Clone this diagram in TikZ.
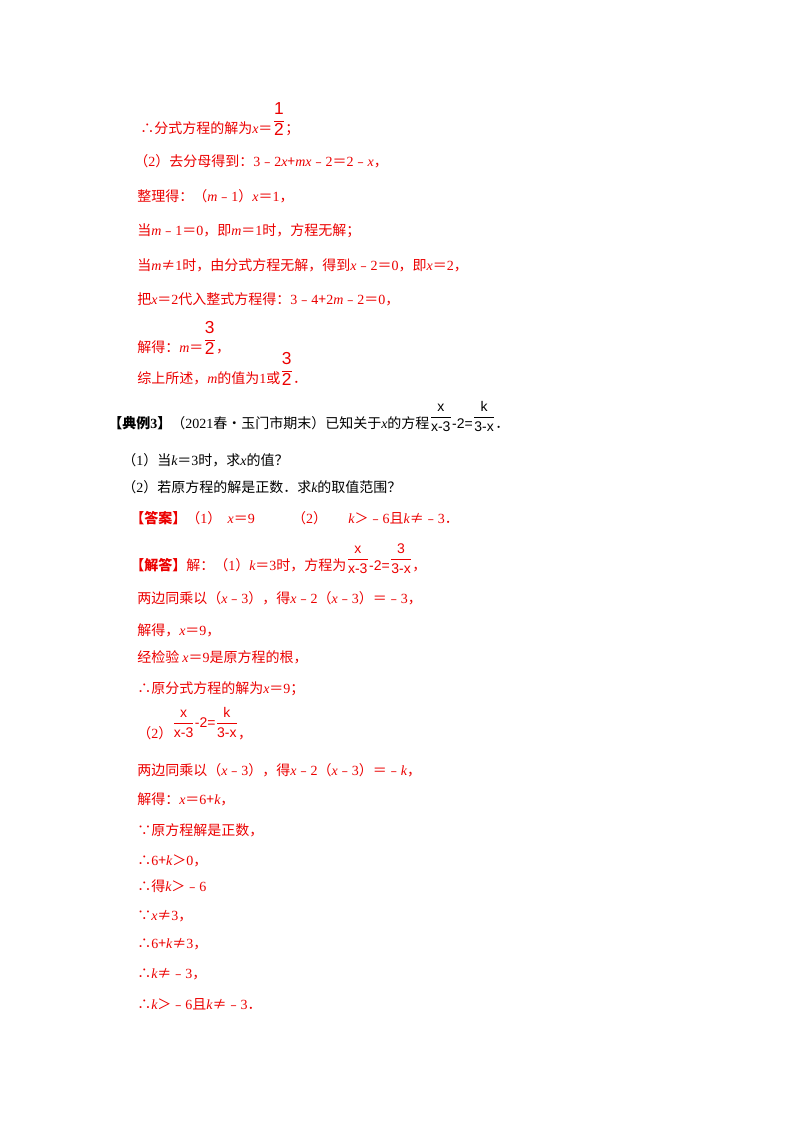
\documentclass[tikz,border=0pt]{standalone}
\usepackage{amsmath}
\usepackage{fontspec}
\setmainfont{Noto Sans CJK SC}
\newfontfamily\tm{Liberation Serif}
\newfontfamily\fs{Liberation Sans}
\newcommand\V[1]{{\tm\itshape #1}}
\newcommand\N[1]{{\tm #1}}
\newcommand\fr[2]{$\displaystyle\genfrac{}{}{0.5pt}{0}{\hbox{\fs #1}}{\hbox{\fs #2}}$}
\newcommand\rfr[2]{\raisebox{5pt}{\fr{#1}{#2}}}
\newcommand\bfr[2]{\raisebox{6pt}{\fontsize{13pt}{14pt}\selectfont\fr{#1}{#2}}}
\definecolor{ans}{RGB}{235,0,0}
\begin{document}
\begin{tikzpicture}[x=0.75pt,y=-0.75pt,
  ln/.style={anchor=base west,inner sep=0pt,font=\fontsize{10.5pt}{12pt}\selectfont},
  rd/.style={ln,text=ans},bk/.style={ln,text=black}]
\useasboundingbox (0,0) rectangle (800,1132);
\node[rd] (a1) at (140,133) {∴分式方程的解为\V{x}＝\bfr{1}{2}；};
\node[rd] (a2) at (134,166) {（\N{2}）去分母得到：\N{3}﹣\N{2}\V{x}+\V{mx}﹣\N{2}＝\N{2}﹣\V{x}，};
\node[rd] (a3) at (137,201) {整理得：（\V{m}﹣\N{1}）\V{x}＝\N{1}，};
\node[rd] (a4) at (137,235) {当\V{m}﹣\N{1}＝\N{0}，即\V{m}＝\N{1}时，方程无解；};
\node[rd] (a5) at (137,270) {当\V{m}≠\N{1}时，由分式方程无解，得到\V{x}﹣\N{2}＝\N{0}，即\V{x}＝\N{2}，};
\node[rd] (a6) at (137,304) {把\V{x}＝\N{2}代入整式方程得：\N{3}﹣\N{4}+\N{2}\V{m}﹣\N{2}＝\N{0}，};
\node[rd] (a7) at (137,352) {解得：\V{m}＝\bfr{3}{2}，};
\node[rd] (a8) at (137,383) {综上所述，\V{m}的值为\N{1}或\bfr{3}{2}．};
\node[bk] (b1) at (108,428) {\textbf{【典例\N{3}】}（\N{2021}春•玉门市期末）已知关于\V{x}的方程\rfr{x}{x-3}{\fs -2=}\rfr{k}{3-x}．};
\node[bk] (b2) at (122,465) {（\N{1}）当\V{k}＝\N{3}时，求\V{x}的值？};
\node[bk] (b3) at (122,492) {（\N{2}）若原方程的解是正数．求\V{k}的取值范围？};
\node[rd] (c1) at (130,523) {\textbf{【答案】}（\N{1}）\ \ \V{x}＝\N{9}\hspace{28pt}（\N{2}）\hspace{16pt}\V{k}＞﹣\N{6}且\V{k}≠﹣\N{3}．};
\node[rd] (c2) at (130,570) {\textbf{【解答】}解：（\N{1}）\V{k}＝\N{3}时，方程为\rfr{x}{x-3}{\fs -2=}\rfr{3}{3-x}，};
\node[rd] (c3) at (137,603) {两边同乘以（\V{x}﹣\N{3}），得\V{x}﹣\N{2}（\V{x}﹣\N{3}）＝﹣\N{3}，};
\node[rd] (c4) at (137,635) {解得，\V{x}＝\N{9}，};
\node[rd] (c5) at (137,662) {经检验 \V{x}＝\N{9}是原方程的根，};
\node[rd] (c6) at (137,693) {∴原分式方程的解为\V{x}＝\N{9}；};
\node[rd] (c7) at (137,738) {（\N{2}）\raisebox{8pt}{\fr{x}{x-3}{\fs -2=}\fr{k}{3-x}}，};
\node[rd] (c8) at (137,775) {两边同乘以（\V{x}﹣\N{3}），得\V{x}﹣\N{2}（\V{x}﹣\N{3}）＝﹣\V{k}，};
\node[rd] (c9) at (137,804) {解得：\V{x}＝\N{6}+\V{k}，};
\node[rd] (c10) at (137,835) {∵原方程解是正数，};
\node[rd] (c11) at (137,865) {∴\N{6}+\V{k}＞\N{0}，};
\node[rd] (c12) at (137,891) {∴得\V{k}＞﹣\N{6}};
\node[rd] (c13) at (137,920) {∵\V{x}≠\N{3}，};
\node[rd] (c14) at (137,948) {∴\N{6}+\V{k}≠\N{3}，};
\node[rd] (c15) at (137,978) {∴\V{k}≠﹣\N{3}，};
\node[rd] (c16) at (137,1009) {∴\V{k}＞﹣\N{6}且\V{k}≠﹣\N{3}．};
\end{tikzpicture}
\end{document}
